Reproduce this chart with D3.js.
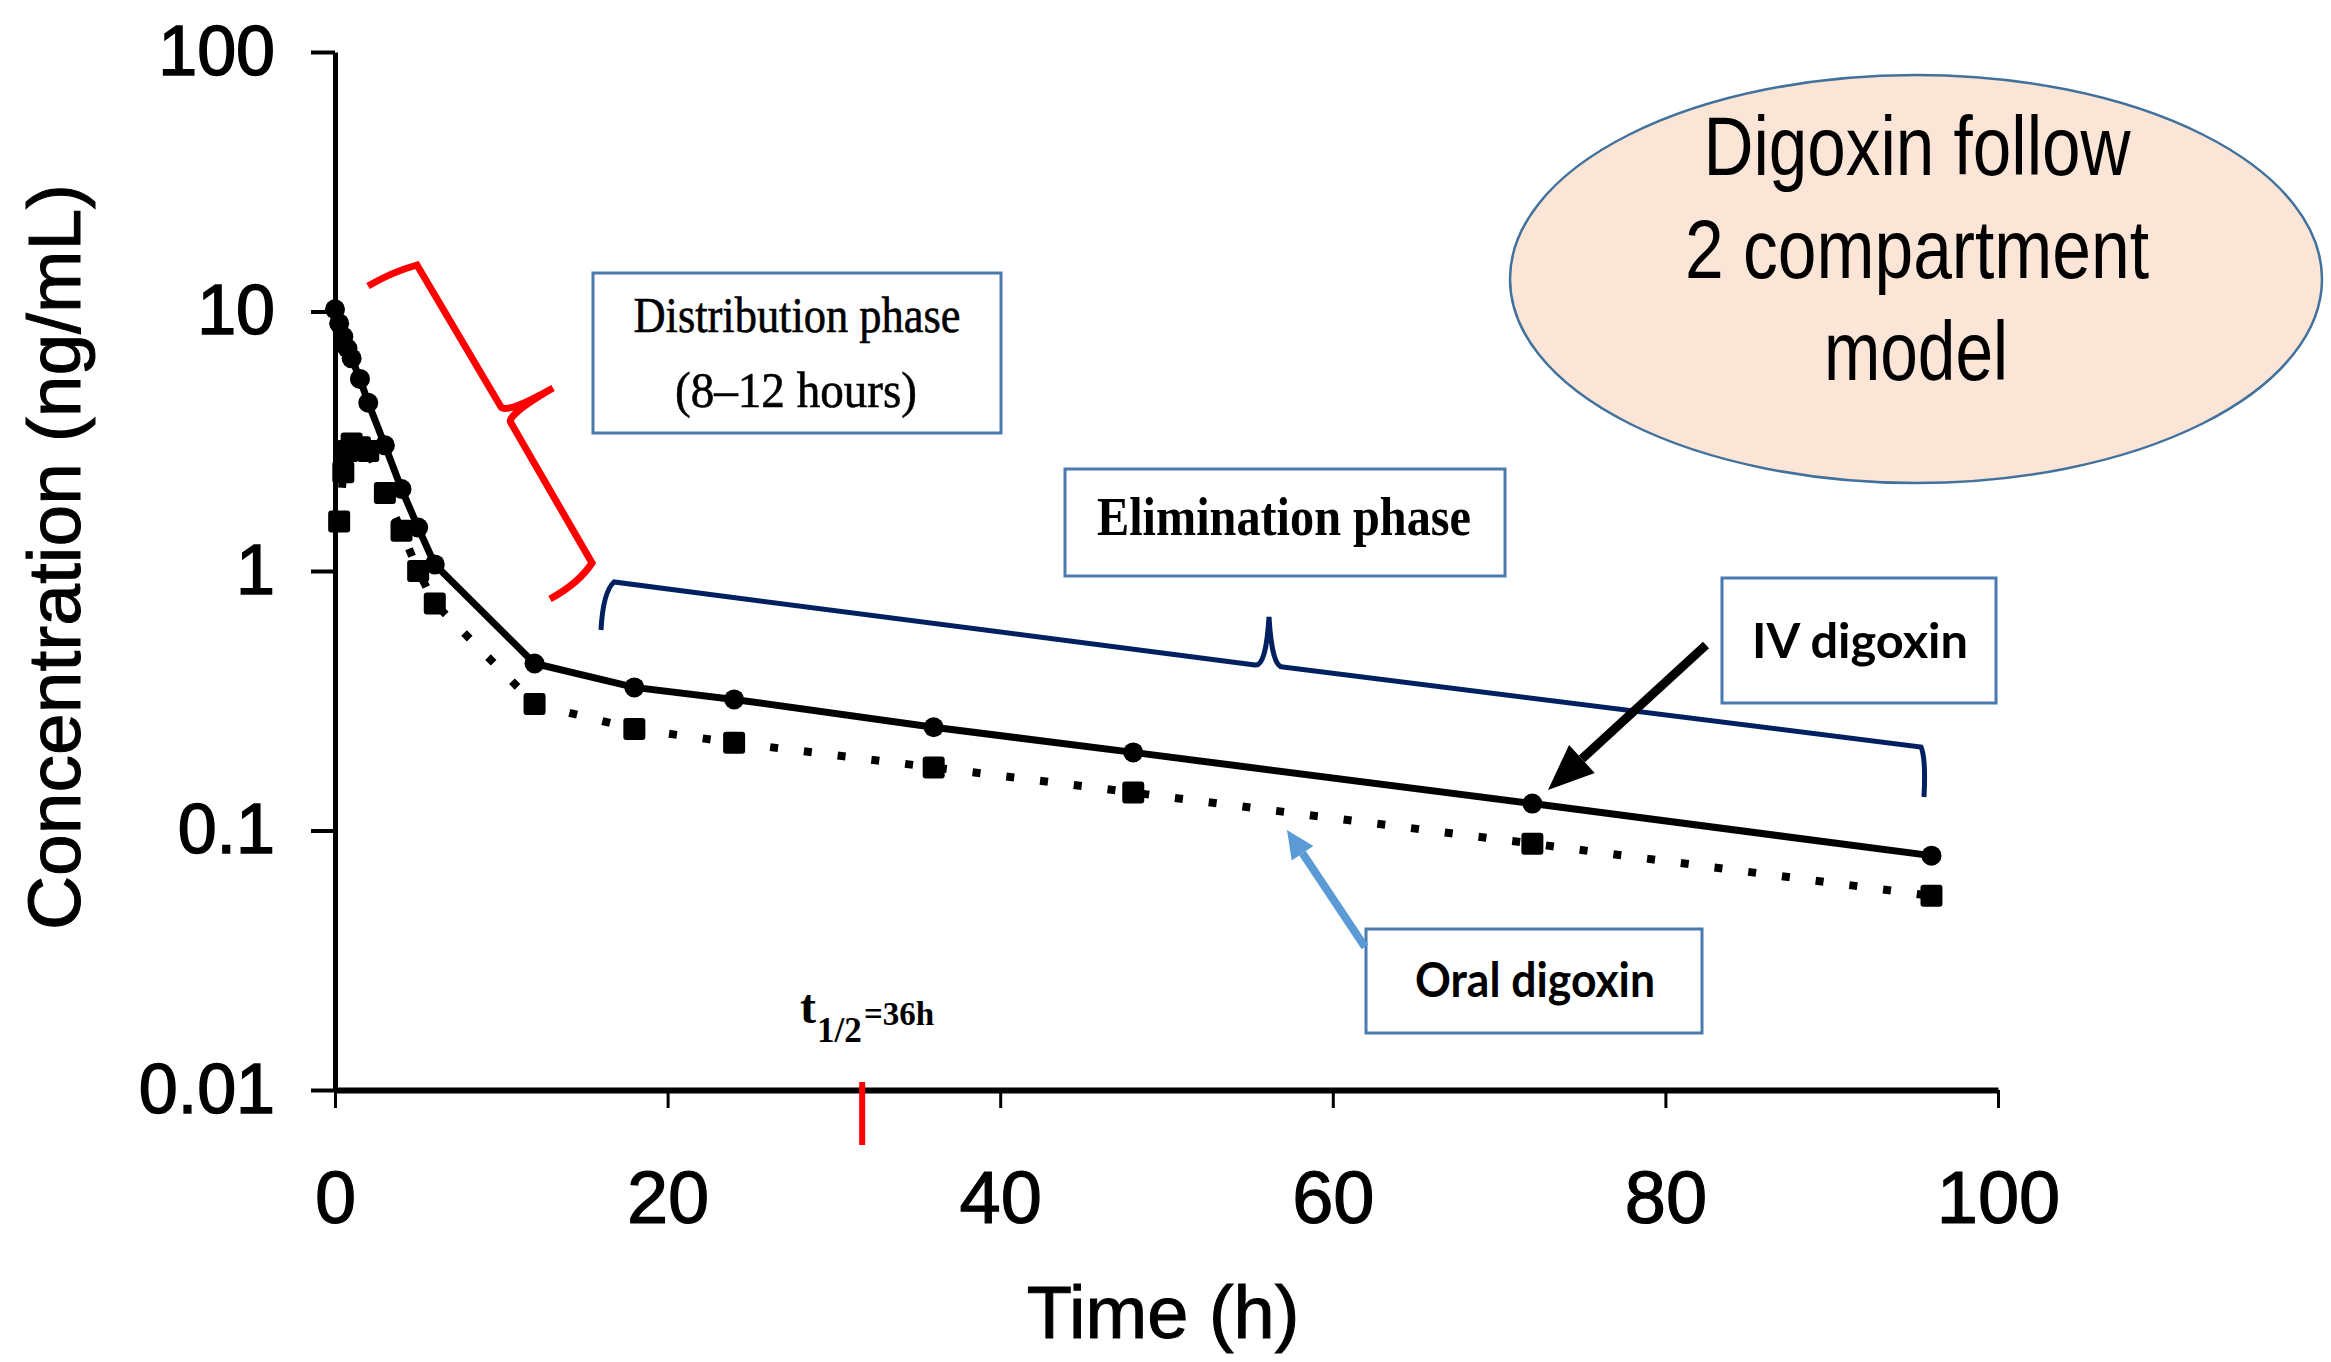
<!DOCTYPE html>
<html>
<head>
<meta charset="utf-8">
<script src="https://cdn.jsdelivr.net/npm/d3@7"></script>
<style>
    body { margin: 0; background: #fff; }
</style>
</head>
<body>
<div id="chart-area"></div>
<script>
// IV digoxin (circles, solid line)
var ivTime = [0, 0.25, 0.5, 0.75, 1, 1.5, 2, 3, 4, 5, 6, 12, 18, 24, 36, 48, 72, 96]
var ivConc = [10.2, 9.0, 8.0, 7.2, 6.6, 5.5, 4.45, 3.05, 2.07, 1.47, 1.06, 0.44, 0.356, 0.32, 0.25, 0.20, 0.127, 0.080]

// oral digoxin (squares, dotted line)
var oralTime = [0.25, 0.5, 0.75, 1, 1.5, 2, 3, 4, 5, 6, 12, 18, 24, 36, 48, 72, 96]
var oralConc = [1.55, 2.4, 2.9, 3.1, 3.0, 2.9, 2.0, 1.43, 1.0, 0.75, 0.307, 0.246, 0.218, 0.175, 0.14, 0.089, 0.056]

var xTicks = [0, 20, 40, 60, 80, 100]
var yTicks = [0.01, 0.1, 1, 10, 100]
var yTickLabels = ["0.01", "0.1", "1", "10", "100"]
var halfLifeTime = 31.7

function init() {
    var svgWidth = 2331
    var svgHeight = 1362

    var svg = d3.select("#chart-area")
        .append("svg")
        .attr("width", svgWidth)
        .attr("height", svgHeight)
        .style("background", "#fff")

    var xScale = d3.scaleLinear().domain([0, 100]).range([335, 1998])
    var yScale = d3.scaleLog().domain([0.01, 100]).range([1090, 52])

    var ivData = d3.zip(ivTime, ivConc).map(d => ({t: d[0], c: d[1]}))
    var oralData = d3.zip(oralTime, oralConc).map(d => ({t: d[0], c: d[1]}))

    //axes
    var leftAxis = d3.axisLeft(yScale)
        .tickValues(yTicks)
        .tickFormat((d, i) => yTickLabels[i])
        .tickSize(24)
        .tickSizeOuter(0)

    var botAxis = d3.axisBottom(xScale)
        .tickValues(xTicks)
        .tickFormat(d3.format("d"))
        .tickSize(18)
        .tickSizeOuter(0)

    var yAxisG = svg.append("g")
        .attr("transform", "translate(" + xScale(0) + ",0)")
        .call(leftAxis)
    yAxisG.select(".domain").attr("stroke-width", 5)
    yAxisG.selectAll(".tick line").attr("stroke-width", 4)
    yAxisG.selectAll("text")
        .attr("x", -60)
        .attr("font-family", "Liberation Sans, Arial, sans-serif")
        .attr("font-size", 70)
        .attr("fill", "#000")
        .attr("stroke", "#000")
        .attr("stroke-width", 1.5)

    var xAxisG = svg.append("g")
        .attr("transform", "translate(0," + yScale(0.01) + ")")
        .call(botAxis)
    xAxisG.select(".domain").attr("stroke-width", 6)
    xAxisG.selectAll(".tick line").attr("stroke-width", 3)
    xAxisG.selectAll("text")
        .attr("y", 80)
        .attr("font-family", "Liberation Sans, Arial, sans-serif")
        .attr("font-size", 74)
        .attr("fill", "#000")
        .attr("stroke", "#000")
        .attr("stroke-width", 1.2)

    svg.append("text")
        .attr("x", 1163)
        .attr("y", 1338)
        .attr("text-anchor", "middle")
        .attr("font-family", "Liberation Sans, Arial, sans-serif")
        .attr("font-size", 74)
        .attr("stroke", "#000")
        .attr("stroke-width", 1)
        .text("Time (h)")

    svg.append("text")
        .attr("transform", "translate(80,557) rotate(-90)")
        .attr("text-anchor", "middle")
        .attr("font-family", "Liberation Sans, Arial, sans-serif")
        .attr("font-size", 75)
        .attr("stroke", "#000")
        .attr("stroke-width", 1)
        .text("Concentration (ng/mL)")

    //curves
    var line = d3.line()
        .x(d => xScale(d.t))
        .y(d => yScale(d.c))

    svg.append("path")
        .datum(oralData)
        .attr("d", line)
        .attr("fill", "none")
        .attr("stroke", "#000")
        .attr("stroke-width", 8)
        .attr("stroke-dasharray", "8,26")

    svg.append("path")
        .datum(ivData)
        .attr("d", line)
        .attr("fill", "none")
        .attr("stroke", "#000")
        .attr("stroke-width", 7)

    svg.append("g")
        .selectAll("rect")
        .data(oralData)
        .enter()
        .append("rect")
        .attr("x", d => xScale(d.t) - 11)
        .attr("y", d => yScale(d.c) - 11)
        .attr("width", 22)
        .attr("height", 22)
        .attr("rx", 3)
        .attr("fill", "#000")

    svg.append("g")
        .selectAll("circle")
        .data(ivData)
        .enter()
        .append("circle")
        .attr("cx", d => xScale(d.t))
        .attr("cy", d => yScale(d.c))
        .attr("r", 10)
        .attr("fill", "#000")

    //half life mark
    svg.append("line")
        .attr("x1", xScale(halfLifeTime))
        .attr("x2", xScale(halfLifeTime))
        .attr("y1", 1082)
        .attr("y2", 1145)
        .attr("stroke", "#ff0000")
        .attr("stroke-width", 6)

    var tHalf = svg.append("text")
        .attr("x", 800)
        .attr("y", 1023)
        .attr("font-family", "Liberation Serif, Times New Roman, serif")
        .attr("font-weight", "bold")
    tHalf.append("tspan").attr("font-size", 48).text("t")
    tHalf.append("tspan").attr("font-size", 35).attr("x", 817).attr("y", 1042).text("1/2")
    tHalf.append("tspan").attr("font-size", 33).attr("x", 864).attr("y", 1025).text("=36h")

    //brackets
    svg.append("path")
        .attr("d", "M368,286 Q392,272 417,265 L501,407 Q507,414 553,388 M553,388 Q505,416 511,423 L592,563 Q579,583 550,599")
        .attr("fill", "none")
        .attr("stroke", "#ff0000")
        .attr("stroke-width", 7)

    svg.append("path")
        .attr("d", "M601,630 Q603,592 614,582 L1255,665 Q1266,667 1269,617 Q1272,668 1283,667 L1921,747 Q1926,758 1924,797")
        .attr("fill", "none")
        .attr("stroke", "#002060")
        .attr("stroke-width", 5)

    //label boxes
    var boxColor = "#4a7ab0"
    var boxes = [
        {x: 593, y: 273, w: 408, h: 160},
        {x: 1065, y: 469, w: 440, h: 107},
        {x: 1722, y: 578, w: 274, h: 125},
        {x: 1366, y: 929, w: 336, h: 104}
    ]
    boxes.forEach(b => {
        svg.append("rect")
            .attr("x", b.x)
            .attr("y", b.y)
            .attr("width", b.w)
            .attr("height", b.h)
            .attr("fill", "#fff")
            .attr("stroke", boxColor)
            .attr("stroke-width", 3)
    })

    function boxText(txt, cx, y, w, size, family, weight) {
        return svg.append("text")
            .attr("x", cx)
            .attr("y", y)
            .attr("text-anchor", "middle")
            .attr("font-family", family)
            .attr("font-weight", weight)
            .attr("font-size", size)
            .attr("textLength", w)
            .attr("lengthAdjust", "spacingAndGlyphs")
            .text(txt)
    }
    var serif = "Liberation Serif, Times New Roman, serif"
    var sans = "Lato, Open Sans, sans-serif"
    boxText("Distribution phase", 797, 332, 327, 50, serif, "normal").attr("stroke", "#000").attr("stroke-width", 0.6)
    boxText("(8\u201312 hours)", 796, 407, 242, 50, serif, "normal").attr("stroke", "#000").attr("stroke-width", 0.6)
    boxText("Elimination phase", 1284, 535, 374, 54, serif, "bold")
    boxText("IV digoxin", 1860, 658, 216, 48, sans, "bold")
    boxText("Oral digoxin", 1535, 997, 240, 48, sans, "bold")

    //arrows
    function arrow(x1, y1, x2, y2, color, width, headLen, headW) {
        var ang = Math.atan2(y2 - y1, x2 - x1)
        var bx = x2 - headLen * Math.cos(ang)
        var by = y2 - headLen * Math.sin(ang)
        var px = Math.sin(ang) * headW / 2
        var py = -Math.cos(ang) * headW / 2
        svg.append("line")
            .attr("x1", x1).attr("y1", y1)
            .attr("x2", bx).attr("y2", by)
            .attr("stroke", color)
            .attr("stroke-width", width)
        svg.append("path")
            .attr("d", "M" + x2 + "," + y2 + "L" + (bx + px) + "," + (by + py) + "L" + (bx - px) + "," + (by - py) + "Z")
            .attr("fill", color)
    }
    arrow(1706, 645, 1548, 790, "#000", 9, 46, 38)
    arrow(1365, 947, 1287, 830, "#5b9bd5", 8, 28, 26)

    //model ellipse
    svg.append("ellipse")
        .attr("cx", 1916)
        .attr("cy", 279)
        .attr("rx", 406)
        .attr("ry", 204)
        .attr("fill", "#fbe5d6")
        .attr("stroke", "#41719c")
        .attr("stroke-width", 2.5)

    var narrow = "Liberation Sans Narrow, Arial Narrow, Liberation Sans, sans-serif"
    boxText("Digoxin follow", 1917, 175, 427, 84, narrow, "normal")
    boxText("2 compartment", 1917, 278, 464, 84, narrow, "normal")
    boxText("model", 1916, 380, 184, 84, narrow, "normal")
}

window.addEventListener('load', init, false)
</script>
</body>
</html>
